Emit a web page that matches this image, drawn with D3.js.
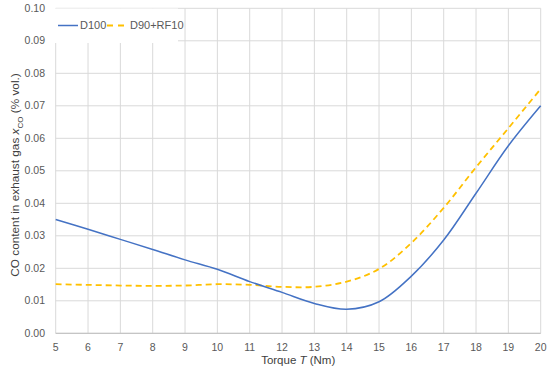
<!DOCTYPE html>
<html><head><meta charset="utf-8">
<script src="https://cdn.jsdelivr.net/npm/d3@7"></script>
<style>body{margin:0;background:#fff}svg{display:block}text{font-family:"Liberation Sans",Arial,sans-serif}</style>
</head><body>
<svg id="c" width="550" height="369"></svg>
<script>
const torque = [5,6,7,8,9,10,11,12,13,14,15,16,17,18,19,20];
const d100 = [0.035,0.032,0.0289,0.0258,0.0226,0.0197,0.0159,0.0126,0.0092,0.0074,0.0097,0.0176,0.0287,0.0431,0.0577,0.070];
const d90rf10 = [0.0151,0.0149,0.0147,0.0146,0.0147,0.0151,0.0149,0.0143,0.0143,0.0159,0.0198,0.0278,0.0386,0.0511,0.0631,0.0752];
const seriesNames = ["D100","D90+RF10"];
const xTicks = [5,6,7,8,9,10,11,12,13,14,15,16,17,18,19,20];
const yTicks = [0,0.01,0.02,0.03,0.04,0.05,0.06,0.07,0.08,0.09,0.10];

const svg = d3.select("#c");
const L=55.7, R=540.7, T=8.3, B=333.3;
const x = d3.scaleLinear().domain([5,20]).range([L,R]);
const y = d3.scaleLinear().domain([0,0.10]).range([B,T]);

// gridlines
svg.append("g").selectAll("line").data(xTicks).join("line")
  .attr("x1",d=>x(d)).attr("x2",d=>x(d)).attr("y1",T).attr("y2",B)
  .attr("stroke","#d9d9d9").attr("stroke-width",1);
svg.append("g").selectAll("line").data(yTicks).join("line")
  .attr("x1",L).attr("x2",R).attr("y1",d=>y(d)).attr("y2",d=>y(d))
  .attr("stroke","#d9d9d9").attr("stroke-width",1);
// bottom axis line
svg.append("line").attr("x1",L).attr("x2",R).attr("y1",B).attr("y2",B).attr("stroke","#bfbfbf");

// tick labels
svg.append("g").selectAll("text").data(yTicks).join("text")
  .attr("x",45).attr("y",d=>y(d)).attr("dy","0.35em").attr("text-anchor","end")
  .attr("font-size",10.5).attr("fill","#595959").text(d=>d3.format(".2f")(d));
svg.append("g").selectAll("text").data(xTicks).join("text")
  .attr("x",d=>x(d)).attr("y",347).attr("dy","0.35em").attr("text-anchor","middle")
  .attr("font-size",10.5).attr("fill","#595959").text(d=>d);

// axis titles
const xt = svg.append("text").attr("x",(L+R)/2).attr("y",360).attr("dy","0.35em")
  .attr("text-anchor","middle").attr("font-size",11.5).attr("fill","#404040");
xt.append("tspan").text("Torque ");
xt.append("tspan").attr("font-style","italic").text("T");
xt.append("tspan").text(" (Nm)");

const yt = svg.append("text").attr("transform",`translate(15,175) rotate(-90)`)
  .attr("dy","0.35em").attr("text-anchor","middle").attr("font-size",11.8).attr("fill","#404040");
yt.append("tspan").text("CO content in exhaust gas ");
yt.append("tspan").attr("font-style","italic").text("x");
yt.append("tspan").attr("font-size",8).attr("dy","0.45em").text("CO");
yt.append("tspan").attr("dy","-0.3em").text(" (% vol.)");

// lines
const line = d3.line().x(d=>x(d[0])).y(d=>y(d[1])).curve(d3.curveCatmullRom.alpha(0.5));
svg.append("path").datum(torque.map((t,i)=>[t,d90rf10[i]]))
  .attr("d",line).attr("fill","none").attr("stroke","#FFC000").attr("stroke-width",1.8)
  .attr("stroke-dasharray","6,4");
svg.append("path").datum(torque.map((t,i)=>[t,d100[i]]))
  .attr("d",line).attr("fill","none").attr("stroke","#4472C4").attr("stroke-width",1.5);

// legend
const lg = svg.append("g");
lg.append("rect").attr("x",55).attr("y",8.5).attr("width",123).attr("height",34.5).attr("fill","#fff");
lg.append("line").attr("x1",58).attr("x2",78).attr("y1",25.5).attr("y2",25.5).attr("stroke","#4472C4").attr("stroke-width",1.5);
lg.append("text").attr("x",80).attr("y",25.5).attr("dy","0.35em").attr("font-size",11).attr("fill","#595959").text(seriesNames[0]);
lg.append("line").attr("x1",107).attr("x2",124).attr("y1",25.5).attr("y2",25.5).attr("stroke","#FFC000").attr("stroke-width",1.8).attr("stroke-dasharray","6,5");
lg.append("text").attr("x",130).attr("y",25.5).attr("dy","0.35em").attr("font-size",11).attr("fill","#595959").text(seriesNames[1]);
</script>
</body></html>
